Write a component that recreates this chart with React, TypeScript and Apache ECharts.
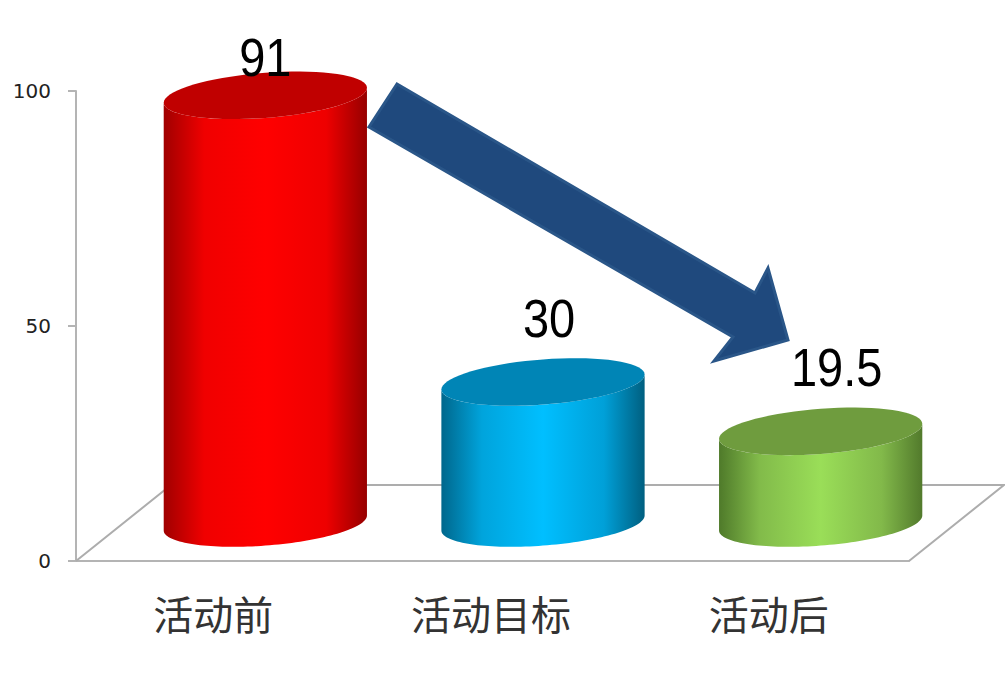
import React, { useEffect, useRef } from "react";
import * as echarts from "echarts";

const categories = ["活动前", "活动目标", "活动后"];
const values = [91, 30, 19.5];
const valueLabels = ["91", "30", "19.5"];
const yTicks = { min: 0, max: 100, interval: 50 };

// layout constants (pixels)
const GRID = { left: 76, top: 91, width: 833, height: 470 };
const DEPTH_X = 51;
const DEPTH_Y = 38;
const FLOOR_DX = 95;
const FLOOR_DY = 76;
const LABEL_SHIFT = [
  { dx: 0, dy: -38 },
  { dx: 6, dy: -64 },
  { dx: 16, dy: -64 },
];
const ARROW: number[][] = [
  [397, 84],
  [755, 293],
  [768, 268],
  [788, 340],
  [714, 361],
  [733, 337],
  [369, 127],
];

const PALETTE = [
  { top: "#c00000", stops: ["#a00000", "#f00000", "#ff0000", "#ee0000", "#960000"] },
  { top: "#0085b6", stops: ["#00678c", "#00a4dc", "#00bfff", "#00a0d8", "#005f80"] },
  { top: "#6f9c3e", stops: ["#4f7a2a", "#82bb4a", "#9ade58", "#82b94a", "#527a2c"] },
];

function cylinderItem(params: any, api: any) {
  const i = api.value(0);
  const v = api.value(1);
  const base = api.coord([i, 0]);
  const head = api.coord([i, v]);
  const a = api.size([1, 0])[0] * 0.366;
  const s = 7.5;
  const b = 22.6;
  const cx = base[0] + DEPTH_X - 0.5;
  const yBase = base[1] - DEPTH_Y;
  const yTop = head[1] - DEPTH_Y;
  const ring = (cy: number, from: number, to: number) => {
    const pts: number[][] = [];
    const n = 72;
    for (let k = 0; k <= n; k++) {
      const t = from + ((to - from) * k) / n;
      pts.push([cx + a * Math.cos(t), cy - s * Math.cos(t) + b * Math.sin(t)]);
    }
    return pts;
  };
  const body = [...ring(yBase, 0, Math.PI), ...ring(yTop, Math.PI, 0)];
  const pal = PALETTE[i];
  const shift = LABEL_SHIFT[i];
  return {
    type: "group",
    children: [
      {
        type: "polygon",
        shape: { points: body },
        style: {
          fill: new echarts.graphic.LinearGradient(0, 0, 1, 0, [
            { offset: 0, color: pal.stops[0] },
            { offset: 0.2, color: pal.stops[1] },
            { offset: 0.5, color: pal.stops[2] },
            { offset: 0.8, color: pal.stops[3] },
            { offset: 1, color: pal.stops[4] },
          ]),
        },
      },
      {
        type: "polygon",
        shape: { points: ring(yTop, 0, Math.PI * 2) },
        style: { fill: pal.top },
      },
      {
        type: "text",
        z2: 10,
        x: cx + shift.dx,
        y: yTop + shift.dy,
        scaleX: 0.87,
        style: {
          text: valueLabels[i],
          x: 0,
          y: 0,
          align: "center",
          verticalAlign: "middle",
          fill: "#000",
          font: '54px "Liberation Sans", sans-serif',
        },
      },
    ],
  };
}

function floorItem(params: any) {
  const g = params.coordSys;
  const x0 = g.x;
  const x1 = g.x + g.width;
  const y = g.y + g.height;
  return {
    type: "polyline",
    shape: {
      points: [
        [x0, y],
        [x0 + FLOOR_DX, y - FLOOR_DY],
        [x1 + FLOOR_DX, y - FLOOR_DY],
        [x1, y],
      ],
    },
    style: { fill: "none", stroke: "#adadad", lineWidth: 2 },
  };
}

export default function App() {
  const ref = useRef<HTMLDivElement>(null);
  useEffect(() => {
    const chart = echarts.init(ref.current!, undefined, { renderer: "svg" });
    chart.setOption({
      animation: false,
      backgroundColor: "#fff",
      grid: GRID,
      xAxis: {
        type: "category",
        data: categories,
        axisTick: { show: false },
        axisLine: { lineStyle: { color: "#b4b4b4", width: 2 } },
        axisLabel: {
          fontFamily: '"Noto Sans CJK SC"',
          fontSize: 40,
          color: "#333",
          margin: 32,
          padding: [0, 3, 0, 0],
          interval: 0,
        },
      },
      yAxis: {
        type: "value",
        min: yTicks.min,
        max: yTicks.max,
        interval: yTicks.interval,
        splitLine: { show: false },
        axisLine: { show: true, lineStyle: { color: "#b4b4b4", width: 2 } },
        axisTick: { show: true, length: 8, lineStyle: { color: "#b4b4b4", width: 2 } },
        axisLabel: {
          fontFamily: '"DejaVu Sans"',
          fontSize: 20,
          color: "#222",
          margin: 25,
          padding: [8, 0, 0, 0],
        },
      },
      series: [
        {
          type: "custom",
          z: 1,
          silent: true,
          renderItem: floorItem,
          data: [[0, 0]],
        },
        {
          type: "custom",
          z: 2,
          silent: true,
          renderItem: cylinderItem,
          encode: { x: 0, y: 1 },
          data: values.map((v, i) => [i, v]),
        },
      ],
      graphic: [
        {
          type: "polygon",
          z: 100,
          shape: { points: ARROW },
          style: { fill: "#1f497d", stroke: "#2a5688", lineWidth: 3, lineJoin: "miter" },
        },
      ],
    });
    return () => chart.dispose();
  }, []);
  return (
    <div
      ref={ref}
      style={{ position: "absolute", left: 0, top: 0, width: 1005, height: 677 }}
    />
  );
}
